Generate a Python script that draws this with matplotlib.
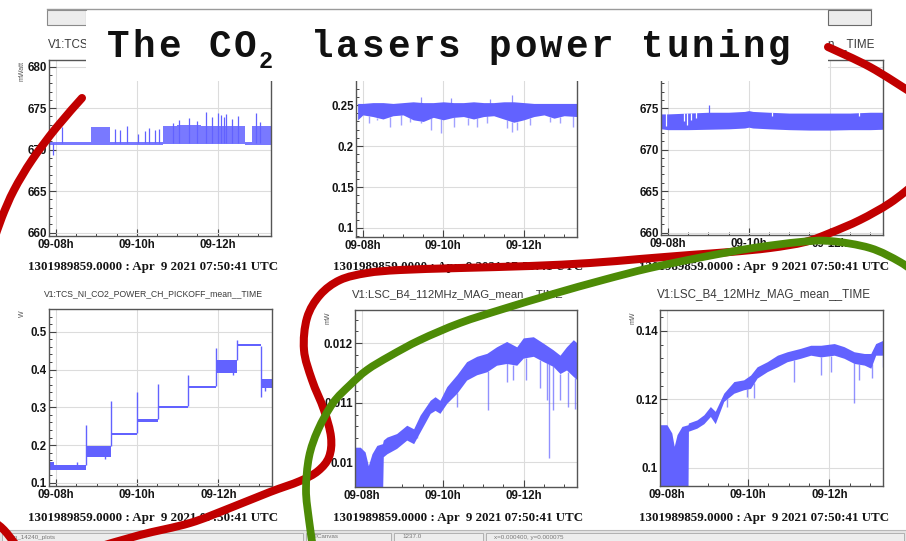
"""Trend panels of the CO2 laser power steps, laid out as a ROOT canvas with a slide title."""

import numpy as np
import matplotlib
import matplotlib.pyplot as plt
from matplotlib.patches import Rectangle, PathPatch
from matplotlib.path import Path
from matplotlib.ticker import FixedLocator, MultipleLocator, FuncFormatter

matplotlib.use("Agg")

plt.rcParams["font.family"] = ["Liberation Sans", "DejaVu Sans"]
plt.rcParams["font.weight"] = "bold"

W, H = 906, 541
BLUE = "#6262ff"
RED = "#c10000"
GREEN = "#4d8b06"

# ---- shared time axis (hours, 9 Apr 2021 UTC) ----
t_range = (7.83, 13.32)
hour_ticks = [8, 10, 12]
hour_labels = ["09-08h", "09-10h", "09-12h"]
stamp = "1301989859.0000 : Apr  9 2021 07:50:41 UTC"

# channel captions as far as they show past the title box
channels = [
    "V1:TCS_",
    None,
    "n__TIME",
    "V1:TCS_NI_CO2_POWER_CH_PICKOFF_mean__TIME",
    "V1:LSC_B4_112MHz_MAG_mean__TIME",
    "V1:LSC_B4_12MHz_MAG_mean__TIME",
]
units = ["mWatt", None, None, "W", "mW", "mW"]

# ---- panel 1: WI laser power [mWatt] ----
p1_t = [7.83, 8.86, 9.33, 10.65, 11.00, 11.60, 12.67, 12.85, 13.32]
p1_lo = [670.6, 670.6, 670.6, 670.65, 670.65, 670.65, 670.6, 670.6, 670.6]
p1_hi = [670.95, 672.7, 670.95, 672.8, 673.0, 672.9, 670.95, 672.8, 672.8]
p1_spike_t = [7.93, 8.16, 9.46, 9.58, 9.75, 10.02, 10.20, 10.30, 10.44, 10.55,
              10.90, 11.05, 11.30, 11.50, 11.72, 11.85, 12.01, 12.08, 12.15,
              12.21, 12.35, 12.50, 12.96, 13.05]
p1_spike_top = [669.4, 672.7, 672.5, 672.4, 672.8, 671.9, 672.3, 672.6, 672.4,
                672.5, 673.2, 673.6, 673.8, 673.5, 674.5, 673.9, 674.4, 674.2,
                673.9, 674.3, 673.7, 674.0, 674.4, 673.3]

# ---- panel 2: pickoff [W] ----
p2_t = [7.87, 8.0, 8.25, 8.5, 8.75, 9.0, 9.25, 9.5, 9.75, 10.0, 10.25, 10.5,
        10.75, 11.0, 11.25, 11.5, 11.75, 12.0, 12.25, 12.5, 12.75, 13.0, 13.32]
p2_hi = [0.252, 0.252, 0.253, 0.253, 0.252, 0.253, 0.254, 0.253, 0.253, 0.254,
         0.253, 0.253, 0.254, 0.253, 0.253, 0.254, 0.254, 0.253, 0.252, 0.252,
         0.252, 0.252, 0.252]
p2_lo = [0.232, 0.238, 0.236, 0.233, 0.237, 0.238, 0.232, 0.230, 0.235, 0.232,
         0.235, 0.236, 0.233, 0.236, 0.237, 0.233, 0.229, 0.232, 0.236, 0.238,
         0.234, 0.237, 0.236]
p2_dip_t = [8.15, 8.35, 8.68, 8.96, 9.17, 9.45, 9.70, 9.93, 10.27, 10.60,
            10.84, 11.09, 11.58, 11.70, 11.82, 12.15, 12.64, 12.89, 13.21]
p2_dip_lo = [0.2276, 0.2317, 0.2236, 0.2256, 0.2297, 0.2276, 0.2195, 0.2154,
             0.2236, 0.2256, 0.2236, 0.2276, 0.2215, 0.2175, 0.2195, 0.2256,
             0.2297, 0.2276, 0.2236]
p2_up_t = [9.45, 10.19, 11.17, 11.70]
p2_up_hi = [0.2602, 0.2581, 0.2580, 0.2622]

# ---- panel 3: NI laser power [mWatt] ----
p3_t = [7.84, 8.0, 8.5, 9.0, 9.5, 9.9, 10.0, 10.1, 10.5, 11.0, 11.5, 12.0,
        12.5, 13.0, 13.32]
p3_hi = [674.3, 674.3, 674.4, 674.5, 674.5, 674.6, 674.7, 674.6, 674.5, 674.4,
         674.4, 674.4, 674.4, 674.5, 674.5]
p3_lo = [672.5, 672.4, 672.4, 672.45, 672.5, 672.6, 672.7, 672.6, 672.5, 672.4,
         672.35, 672.35, 672.4, 672.4, 672.45]
p3_notch_t = [7.96, 8.41, 8.48, 8.58, 8.70, 10.58, 12.72]
p3_notch_lo = [672.8, 673.4, 673.0, 673.6, 673.8, 674.0, 674.0]
p3_spike_t = [9.02]
p3_spike_hi = [675.4]

# ---- panel 4: NI pickoff power steps [W] ----
p4_t = [7.83, 7.95, 8.73, 9.36, 9.99, 10.52, 11.25, 11.93, 12.46, 13.06, 13.32]
p4_lo = [0.135, 0.134, 0.168, 0.226, 0.262, 0.299, 0.352, 0.392, 0.462, 0.352, 0.352]
p4_hi = [0.155, 0.147, 0.197, 0.232, 0.268, 0.304, 0.357, 0.425, 0.468, 0.376, 0.376]
p4_kick_t = [8.52, 8.73, 9.20, 9.36, 9.99, 10.52, 11.25, 11.93, 12.35, 12.46, 13.06, 13.15]
p4_kick_from = [0.146, 0.147, 0.175, 0.197, 0.232, 0.268, 0.304, 0.357, 0.395,
                0.425, 0.462, 0.360]
p4_kick_to = [0.156, 0.253, 0.163, 0.316, 0.341, 0.362, 0.385, 0.458, 0.385,
              0.478, 0.328, 0.343]

# ---- panel 5: B4 112 MHz magnitude [mW] ----
p5_t = [7.82, 7.96, 8.08, 8.16, 8.25, 8.37, 8.51, 8.53, 8.62, 8.86, 9.11, 9.28,
        9.44, 9.69, 9.81, 9.93, 10.10, 10.35, 10.59, 10.84, 11.09, 11.33, 11.58,
        11.83, 11.99, 12.24, 12.49, 12.73, 12.90, 13.06, 13.23, 13.33]
p5_hi = [0.01025, 0.01025, 0.01017, 0.00994, 0.01014, 0.01028, 0.01031, 0.01037,
         0.01042, 0.01048, 0.01062, 0.01056, 0.01079, 0.01104, 0.01110, 0.01104,
         0.01127, 0.01147, 0.01169, 0.01178, 0.01183, 0.01194, 0.01203, 0.01194,
         0.01209, 0.01211, 0.01200, 0.01189, 0.01180, 0.01194, 0.01206, 0.01200]
p5_lo = [0.0094, 0.0094, 0.0094, 0.0094, 0.0094, 0.0094, 0.0094, 0.01009,
         0.01014, 0.01023, 0.01037, 0.01031, 0.01051, 0.01082, 0.01087, 0.01082,
         0.01099, 0.01116, 0.01138, 0.01147, 0.01152, 0.01163, 0.01166, 0.01163,
         0.01175, 0.01178, 0.01169, 0.01161, 0.01149, 0.01155, 0.01144, 0.01138]
p5_dip_t = [9.36, 10.35, 11.13, 11.58, 11.74, 12.07, 12.40, 12.57, 12.63, 12.73,
            12.90, 13.10, 13.27]
p5_dip_lo = [0.01048, 0.01093, 0.01087, 0.01135, 0.01138, 0.01138, 0.01124,
             0.01104, 0.01006, 0.01087, 0.01104, 0.01093, 0.01090]

# ---- panel 6: B4 12 MHz magnitude [mW] ----
p6_t = [7.835, 8.0, 8.12, 8.18, 8.25, 8.37, 8.52, 8.53, 8.74, 8.91, 9.07, 9.19,
        9.40, 9.65, 9.89, 10.06, 10.22, 10.47, 10.72, 10.96, 11.29, 11.54, 11.79,
        12.12, 12.36, 12.61, 12.86, 13.02, 13.14, 13.33]
p6_hi = [0.1126, 0.1126, 0.1102, 0.1063, 0.1097, 0.1121, 0.1126, 0.1131, 0.1140,
         0.1155, 0.1179, 0.1165, 0.1218, 0.1252, 0.1257, 0.1271, 0.1295, 0.1310,
         0.1329, 0.1339, 0.1349, 0.1358, 0.1358, 0.1363, 0.1354, 0.1339, 0.1334,
         0.1334, 0.1363, 0.1373]
p6_lo = [0.094, 0.094, 0.094, 0.094, 0.094, 0.094, 0.094, 0.1107, 0.1116, 0.1129,
         0.1150, 0.1129, 0.1194, 0.1218, 0.1228, 0.1232, 0.1262, 0.1281, 0.1295,
         0.1310, 0.1320, 0.1329, 0.1324, 0.1329, 0.1320, 0.1305, 0.1300, 0.1291,
         0.1329, 0.1329]
p6_dip_t = [9.48, 9.98, 10.14, 11.13, 11.79, 12.03, 12.61, 12.73, 13.06, 13.31]
p6_dip_lo = [0.1179, 0.1208, 0.1203, 0.1252, 0.1271, 0.1281, 0.1189, 0.1257,
             0.1261, 0.1295]

# ---- layout: frames in canvas pixels (left, top, right, bottom) ----
frames = [(49, 60, 271, 236), (356, 60, 577, 237), (661, 60, 883, 235),
          (49, 309, 272, 486), (355, 310, 577, 487), (660, 310, 883, 486)]
ylims = [(659.6, 680.8), (0.089, 0.305), (659.7, 680.8),
         (0.092, 0.56), (0.00958, 0.01256), (0.0947, 0.1461)]
ysteps = [(5, 1), (0.05, 0.01), (5, 1), (0.1, 0.02), (0.001, 0.0002), (0.02, 0.004)]
# labels above these values sit under the title box
label_caps = [np.inf, 0.26, 676, np.inf, np.inf, np.inf]
caption_sizes = [8.4, 8.4, 8.4, 6.2, 8.1, 8.4]
col_centers = [153, 458, 764]


def add_panel(fig, frame, ylim, steps, cap):
    left, top, right, bottom = frame
    ax = fig.add_axes([left / W, 1 - bottom / H, (right - left) / W, (bottom - top) / H])
    ax.set_xlim(*t_range)
    ax.set_ylim(*ylim)
    ax.xaxis.set_major_locator(FixedLocator(hour_ticks))
    ax.xaxis.set_major_formatter(FuncFormatter(lambda v, _: hour_labels[hour_ticks.index(round(v))]))
    ax.xaxis.set_minor_locator(MultipleLocator(0.5))
    ax.yaxis.set_major_locator(MultipleLocator(steps[0]))
    ax.yaxis.set_minor_locator(MultipleLocator(steps[1]))
    ax.yaxis.set_major_formatter(FuncFormatter(lambda v, _: f"{v:g}" if v <= cap else ""))
    ax.tick_params(which="both", direction="in", top=False, right=False,
                   color="#444444", labelcolor="#151515", labelsize=8.3, pad=1.5)
    ax.tick_params(axis="x", which="major", pad=2.4)
    ax.tick_params(which="major", length=5, width=0.8)
    ax.tick_params(which="minor", length=2.5, width=0.7)
    ax.grid(True, which="major", color="#dcdcdc", lw=0.8)
    ax.set_axisbelow(True)
    for s in ax.spines.values():
        s.set_color("#555555")
        s.set_linewidth(1.0)
    return ax


def smooth_stroke(points):
    pts = np.asarray(points, float)
    verts, codes = [pts[0]], [Path.MOVETO]
    n = len(pts)
    for i in range(n - 1):
        p0, p1 = pts[max(i - 1, 0)], pts[i]
        p2, p3 = pts[i + 1], pts[min(i + 2, n - 1)]
        verts += [p1 + (p2 - p0) / 6, p2 - (p3 - p1) / 6, p2]
        codes += [Path.CURVE4] * 3
    return Path(verts, codes)


fig = plt.figure(figsize=(W / 100, H / 100), dpi=100)
axes = [add_panel(fig, f, yl, st, cp) for f, yl, st, cp in zip(frames, ylims, ysteps, label_caps)]

ax = axes[0]
ax.fill_between(p1_t, p1_lo, p1_hi, step="post", color=BLUE, lw=0, alpha=0.85)
ax.vlines(p1_spike_t, 670.8, p1_spike_top, color=BLUE, lw=0.9)

ax = axes[1]
ax.fill_between(p2_t, p2_lo, p2_hi, color=BLUE, lw=0)
ax.vlines(p2_dip_t, p2_dip_lo, np.interp(p2_dip_t, p2_t, p2_lo), color=BLUE, lw=1.0, alpha=0.6)
ax.vlines(p2_up_t, 0.25, p2_up_hi, color=BLUE, lw=0.9, alpha=0.7)

ax = axes[2]
ax.fill_between(p3_t, p3_lo, p3_hi, color=BLUE, lw=0)
ax.vlines(p3_notch_t, p3_notch_lo, np.interp(p3_notch_t, p3_t, p3_hi) + 0.05, color="white", lw=0.9)
ax.vlines(p3_spike_t, 674.0, p3_spike_hi, color=BLUE, lw=0.9)

ax = axes[3]
ax.fill_between(p4_t, p4_lo, p4_hi, step="post", color=BLUE, lw=0)
ax.vlines(p4_kick_t, p4_kick_from, p4_kick_to, color=BLUE, lw=1.0)

ax = axes[4]
ax.fill_between(p5_t, p5_lo, p5_hi, color=BLUE, lw=0)
ax.vlines(p5_dip_t, p5_dip_lo, np.interp(p5_dip_t, p5_t, p5_lo), color=BLUE, lw=1.0, alpha=0.7)

ax = axes[5]
ax.fill_between(p6_t, p6_lo, p6_hi, color=BLUE, lw=0)
ax.vlines(p6_dip_t, p6_dip_lo, np.interp(p6_dip_t, p6_t, p6_lo), color=BLUE, lw=1.0, alpha=0.7)

# ---- overlay in canvas pixels: captions, slide title, status bar, pen marks ----
ov = fig.add_axes([0, 0, 1, 1])
ov.set_xlim(0, W)
ov.set_ylim(H, 0)
ov.axis("off")
ov.patch.set_alpha(0)

for i, frame in enumerate(frames):
    cx = col_centers[i % 3]
    top_y = 44 if i < 3 else 294
    foot_y = 267 if i < 3 else 518
    if channels[i]:
        if i == 0:
            x, ha = 48, "left"
        elif i == 2:
            x, ha = 875, "right"
        else:
            x, ha = cx, "center"
        ov.text(x, top_y, channels[i], ha=ha, va="center", fontsize=caption_sizes[i],
                fontweight="normal", color="#3a3a3a", zorder=1)
    ov.text(cx, foot_y, stamp, ha="center", va="center", fontsize=9.4,
            family="Liberation Serif", fontweight="bold", color="#151515", zorder=1)
    if units[i]:
        ov.text(frame[0] - 27, frame[1] + 1, units[i], ha="center", va="top", rotation=90,
                fontsize=5, fontweight="normal", color="#555555", zorder=1)

# canvas tab strip and title box
ov.plot([47, 871], [9, 9], color="#9a9a9a", lw=1.0, zorder=6)
ov.add_patch(Rectangle((47, 10), 39, 15, fc="#ececec", ec="#8a8a8a", lw=0.8, zorder=4))
ov.add_patch(Rectangle((828, 10), 43, 15, fc="#ececec", ec="#6a6a6a", lw=0.8, zorder=6))
ov.add_patch(Rectangle((86, 11), 742, 70, fc="white", ec="none", zorder=5))

for k, ch in enumerate("The CO"):
    ov.text(107 + k * 25.4, 57, ch, ha="left", va="baseline", family="Liberation Mono",
            fontsize=27, fontweight="bold", color="#111111", zorder=7)
ov.text(259, 68, "2", ha="left", va="baseline", family="Liberation Mono",
        fontsize=17, fontweight="bold", color="#111111", zorder=7)
for k, ch in enumerate("lasers power tuning"):
    ov.text(311 + k * 25.4, 57, ch, ha="left", va="baseline", family="Liberation Mono",
            fontsize=27, fontweight="bold", color="#111111", zorder=7)

# status bar
ov.add_patch(Rectangle((0, 530), W, 11, fc="#e4e4e4", ec="none", zorder=3))
ov.plot([0, W], [530, 530], color="#b8b8b8", lw=0.8, zorder=3)
status_cells = [(2, 301, "bin_14240_plots"), (306, 85, "TCanvas"),
                (394, 89, "1237.0"), (486, 418, "x=0.000400, y=0.000075")]
for x0, w, txt in status_cells:
    ov.add_patch(Rectangle((x0, 532.5), w, 9, fc="#ededed", ec="#a8a8a8", lw=0.6, zorder=3))
    ov.text(x0 + 8, 537, txt, ha="left", va="center", fontsize=4.5, fontweight="normal",
            color="#777777", zorder=3)

# pen marks
red_strokes = [
    [(82, 98), (56, 128), (32, 160), (14, 190), (2, 217), (-6, 240)],
    [(828, 47), (870, 67), (912, 93)],
    [(916, 183), (890, 203), (860, 220), (830, 233), (805, 242), (770, 248),
     (730, 252), (690, 255), (640, 259), (590, 263), (530, 266), (460, 268),
     (400, 270), (367, 273), (340, 280), (320, 295), (307, 318), (304, 350),
     (312, 380), (324, 410), (331, 437), (329, 457), (318, 471), (300, 481),
     (270, 492), (230, 508), (190, 523), (140, 535), (95, 548)],
    [(-8, 520), (4, 530), (16, 545)],
]
green_stroke = [(313, 548), (309, 520), (306, 490), (309, 457), (318, 430), (333, 403),
                (350, 385), (367, 370), (390, 356), (420, 340), (460, 323), (503, 309),
                (553, 294), (603, 280), (650, 268), (703, 257), (753, 248), (800, 242),
                (830, 241), (870, 248), (900, 262), (918, 275)]

for pts in red_strokes:
    ov.add_patch(PathPatch(smooth_stroke(pts), fill=False, ec=RED, lw=5.8,
                           capstyle="round", joinstyle="round", zorder=8))
ov.add_patch(PathPatch(smooth_stroke(green_stroke), fill=False, ec=GREEN, lw=5.6,
                       capstyle="round", joinstyle="round", zorder=9))

fig.savefig("out.png", dpi=100)
plt.close(fig)
